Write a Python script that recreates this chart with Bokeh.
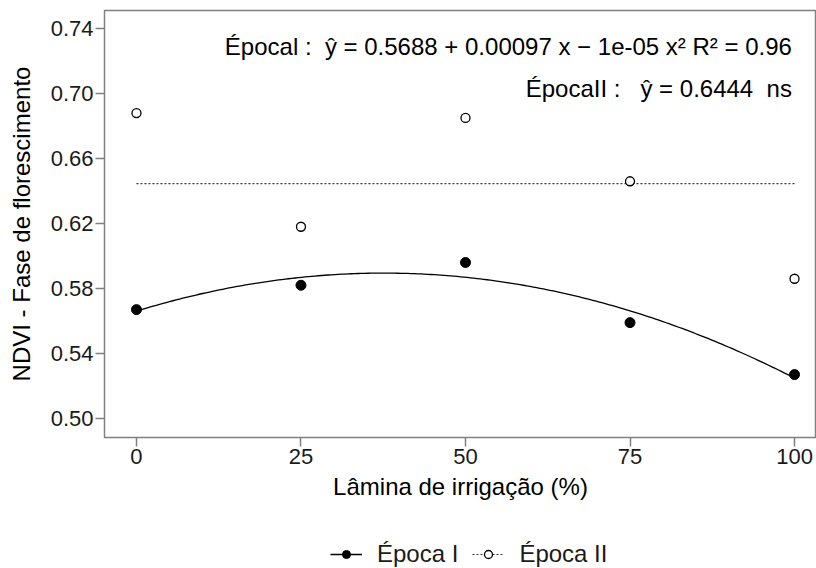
import numpy as np
from bokeh.plotting import figure
from bokeh.layouts import column
from bokeh.models import (Range1d, FixedTicker, NumeralTickFormatter, Legend, LegendItem, Label)
from bokeh.embed import file_html
from bokeh.resources import INLINE

# data
laminas = [0, 25, 50, 75, 100]
epoca1 = [0.567, 0.582, 0.596, 0.559, 0.527]
epoca2 = [0.688, 0.618, 0.685, 0.646, 0.586]
y_ticks = [0.50, 0.54, 0.58, 0.62, 0.66, 0.70, 0.74]
x_ticks = [0, 25, 50, 75, 100]
NB = "\u00a0"
eq1 = f"Épocal{NB}:{NB}{NB}ŷ{NB}={NB}0.5688{NB}+{NB}0.00097{NB}x{NB}−{NB}1e-05{NB}x²{NB}R²{NB}={NB}0.96"
eq2 = f"ÉpocaII{NB}:{NB}{NB}{NB}ŷ{NB}={NB}0.6444{NB}{NB}ns"
xlabel = "Lâmina de irrigação (%)"
ylabel = "NDVI - Fase de florescimento"
legend_labels = ["Época I", "Época II"]

FONT = "Liberation Sans"

p = figure(width=816, height=520, output_backend="svg", toolbar_location=None,
           x_range=Range1d(-4.86, 103.34), y_range=Range1d(0.4883, 0.7511),
           min_border_left=104, min_border_right=0, min_border_top=10, min_border_bottom=83)
p.background_fill_color = "white"
p.border_fill_color = "white"
p.outline_line_color = "#808080"
p.outline_line_width = 1.5
p.grid.visible = False

# fitted curve (quadratic regression of Época I)
coef = np.polyfit(laminas, epoca1, 2)
xs = np.linspace(min(laminas), max(laminas), 200)
ys = np.polyval(coef, xs)
p.line(xs, ys, line_color="black", line_width=1.3)
p.scatter(laminas, epoca1, size=10, marker="circle", fill_color="black", line_color="black")

mean2 = float(np.mean(epoca2))
p.line([min(laminas), max(laminas)], [mean2, mean2], line_color="#333333",
       line_width=1.2, line_dash="2 2")
p.scatter(laminas, epoca2, size=9, marker="circle", fill_color="white",
          line_color="black", line_width=1.3)

for ax in (p.xaxis[0], p.yaxis[0]):
    ax.axis_line_color = None
    ax.major_tick_line_color = "#808080"
    ax.major_tick_line_width = 1.5
    ax.major_tick_out = 9
    ax.major_tick_in = 0
    ax.minor_tick_line_color = None
    ax.major_label_text_font = FONT
    ax.major_label_text_font_size = "22px"
    ax.major_label_text_color = "#1a1a1a"
    ax.axis_label_text_font = FONT
    ax.axis_label_text_font_size = "24px"
    ax.axis_label_text_font_style = "normal"
    ax.axis_label_text_color = "black"

p.xaxis.ticker = FixedTicker(ticks=x_ticks)
p.yaxis.ticker = FixedTicker(ticks=y_ticks)
p.yaxis.formatter = NumeralTickFormatter(format="0.00")
p.xaxis.axis_label = xlabel
p.yaxis.axis_label = ylabel
p.xaxis.major_label_standoff = 2
p.yaxis.major_label_standoff = 2
p.xaxis.axis_label_standoff = 6
p.yaxis.axis_label_standoff = 13

p.add_layout(Label(x=99.6, y=0.7289, text=eq1, text_align="right", text_baseline="middle",
                   text_font=FONT, text_font_size="24px", text_color="black"))
p.add_layout(Label(x=99.6, y=0.7031, text=eq2, text_align="right", text_baseline="middle",
                   text_font=FONT, text_font_size="24px", text_color="black"))

# legend strip below the plot (renderers hold the data but lie outside the strip's ranges)
pl = figure(width=816, height=48, output_backend="svg", toolbar_location=None,
            x_range=Range1d(1000, 1001), y_range=Range1d(1000, 1001),
            min_border_left=104, min_border_right=0, min_border_top=0, min_border_bottom=0)
pl.axis.visible = False
pl.grid.visible = False
pl.outline_line_color = None
pl.background_fill_color = "white"
pl.border_fill_color = "white"
l1 = pl.line(laminas, epoca1, line_color="black", line_width=1.3)
s1 = pl.scatter(laminas, epoca1, size=10, marker="circle", fill_color="black", line_color="black")
l2 = pl.line(laminas, epoca2, line_color="#333333", line_width=1.2, line_dash="2 2")
s2 = pl.scatter(laminas, epoca2, size=9, marker="circle", fill_color="white",
                line_color="black", line_width=1.3)
legend = Legend(items=[LegendItem(label=legend_labels[0], renderers=[l1, s1]),
                       LegendItem(label=legend_labels[1], renderers=[l2, s2])],
                orientation="horizontal", location=(226, 0),
                label_text_font=FONT, label_text_font_size="24px", label_text_color="#1a1a1a",
                glyph_width=32, glyph_height=20, label_standoff=15, spacing=14,
                border_line_color=None, background_fill_alpha=0, margin=0, padding=2)
pl.add_layout(legend)

open("out.html", "w").write(file_html(column(p, pl, spacing=0), INLINE))
